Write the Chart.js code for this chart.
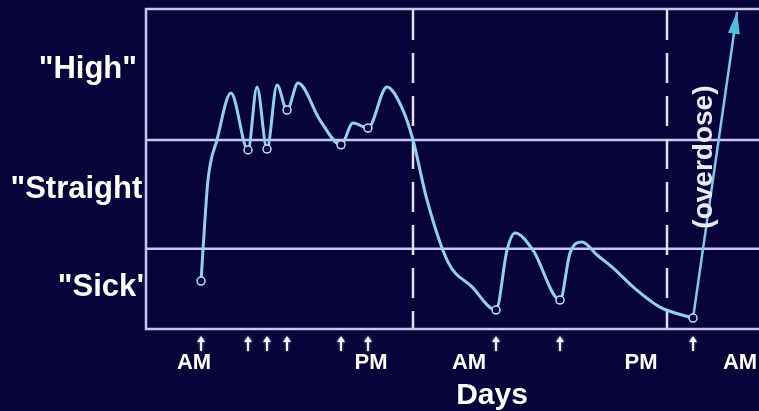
<!DOCTYPE html>
<html>
<head>
<meta charset="utf-8">
<style>
  html, body { margin: 0; padding: 0; background: #05033a; }
  #wrap { width: 759px; height: 411px; }
</style>
</head>
<body>
<div id="wrap"><canvas id="chart" width="759" height="411"></canvas></div>
<script src="https://cdn.jsdelivr.net/npm/chart.js@4.4.1/dist/chart.umd.min.js"></script>
<script>
// hours since the start, mood level (0 = very sick, 100 = top of the frame)
const curveHours = [4.93, 5.10, 5.54, 6.33, 7.56, 9.06, 9.85, 10.73, 11.61, 12.49, 13.46, 15.39, 17.24, 18.29, 19.61, 21.28, 22.69, 23.57, 24.80, 26.65, 28.76, 30.87, 31.84, 32.54, 34.12, 36.50, 37.38, 38.43, 39.75, 41.16, 42.92, 45.29, 48.20];
const curveLevels = [15.2, 24.8, 46.6, 59.0, 73.6, 55.9, 75.5, 56.2, 76.1, 68.3, 76.7, 65.2, 57.5, 64.3, 62.7, 75.5, 68.3, 59.0, 40.4, 21.1, 13.4, 6.2, 24.8, 30.1, 24.8, 9.3, 23.9, 27.3, 23.3, 19.3, 13.4, 7.1, 3.7];
const doseHours = [4.93, 9.06, 10.73, 12.49, 17.24, 19.61, 30.87, 36.50, 48.20];
const overdoseHours = [48.20, 52.07];
const overdoseLevels = [3.7, 98.8];
const bandLimits = [59.0, 25.2];
const moodLabels = ['"High"', '"Straight"', '"Sick"'];
const moodLabelLevels = [78.3, 41.0, 10.6];
const dayBreaks = [23.57, 45.91];
const tickHours = [4.31, 19.88, 28.50, 43.62, 52.33];
const tickLabels = ["AM", "PM", "AM", "PM", "AM"];

const BG = "#05033a";
const FRAME = "#cbc4ec";
const FONT = "'Liberation Sans', Arial, sans-serif";

const decorations = {
  id: "decorations",
  beforeDraw(chart) {
    const c = chart.ctx;
    c.save();
    c.fillStyle = BG;
    c.fillRect(0, 0, chart.width, chart.height);
    c.restore();
  },
  beforeDatasetsDraw(chart) {
    const c = chart.ctx;
    const a = chart.chartArea;
    const xs = chart.scales.x;
    const ys = chart.scales.y;
    c.save();
    c.strokeStyle = FRAME;
    c.lineWidth = 2.5;
    // band limits
    bandLimits.forEach((v) => {
      const y = ys.getPixelForValue(v);
      c.beginPath();
      c.moveTo(a.left, y);
      c.lineTo(a.right, y);
      c.stroke();
    });
    // frame (open on the right)
    c.beginPath();
    c.moveTo(a.right, a.top + 1);
    c.lineTo(a.left + 1, a.top + 1);
    c.lineTo(a.left + 1, a.bottom - 1);
    c.lineTo(a.right, a.bottom - 1);
    c.stroke();
    // day breaks
    c.strokeStyle = "#e4e0f6";
    c.setLineDash([30, 13]);
    dayBreaks.forEach((h) => {
      const x = xs.getPixelForValue(h);
      c.beginPath();
      c.moveTo(x, a.top + 2);
      c.lineTo(x, a.bottom - 2);
      c.stroke();
    });
    c.restore();
  },
  afterDatasetsDraw(chart) {
    const c = chart.ctx;
    const pts = chart.getDatasetMeta(1).data;
    const p0 = pts[0], p1 = pts[pts.length - 1];
    const ang = Math.atan2(p1.y - p0.y, p1.x - p0.x);
    c.save();
    c.translate(p1.x, p1.y);
    c.rotate(ang);
    c.fillStyle = "#4fbedd";
    c.beginPath();
    c.moveTo(0, 0);
    c.lineTo(-22, -6);
    c.lineTo(-22, 6);
    c.closePath();
    c.fill();
    c.restore();
  },
  afterDraw(chart) {
    const c = chart.ctx;
    const a = chart.chartArea;
    const xs = chart.scales.x;
    const ys = chart.scales.y;
    c.save();
    // mood labels, tucked behind the frame
    c.save();
    c.beginPath();
    c.rect(0, 0, a.left - 1, chart.height);
    c.clip();
    c.fillStyle = "#ffffff";
    c.font = "bold 31px " + FONT;
    c.textAlign = "right";
    c.textBaseline = "alphabetic";
    const rightEdges = [a.left - 8, a.left + 12, a.left + 6];
    moodLabels.forEach((t, i) => {
      c.fillText(t, rightEdges[i], ys.getPixelForValue(moodLabelLevels[i]));
    });
    c.restore();
    // dose arrows under the axis
    c.fillStyle = "#f4f2ff";
    c.strokeStyle = "#f4f2ff";
    c.shadowColor = "rgba(255,255,255,0.6)";
    c.shadowBlur = 3;
    c.lineWidth = 2;
    doseHours.forEach((h) => {
      const x = xs.getPixelForValue(h);
      const top = a.bottom + 6;
      c.beginPath();
      c.moveTo(x, top + 4);
      c.lineTo(x, top + 15);
      c.stroke();
      c.beginPath();
      c.moveTo(x, top);
      c.lineTo(x - 4, top + 6);
      c.lineTo(x + 4, top + 6);
      c.closePath();
      c.fill();
    });
    c.shadowBlur = 0;
    // axis title
    c.fillStyle = "#ffffff";
    c.font = "bold 30px " + FONT;
    c.textAlign = "center";
    c.textBaseline = "alphabetic";
    c.fillText("Days", a.left + 347, chart.height - 7);
    // overdose note
    c.translate(xs.getPixelForValue(49.16), ys.getPixelForValue(53.7));
    c.rotate(-Math.PI / 2);
    c.fillStyle = "#ebe9f6";
    c.font = "bold 28px " + FONT;
    c.textAlign = "center";
    c.textBaseline = "middle";
    c.fillText("(overdose)", 0, 0);
    c.restore();
  },
};

const ctx = document.getElementById("chart").getContext("2d");
const moodChart = new Chart(ctx, {
  type: "line",
  data: {
    datasets: [
      {
        data: curveHours.map((h, i) => ({ x: h, y: curveLevels[i] })),
        borderColor: "#8ed2ee",
        borderWidth: 3,
        cubicInterpolationMode: "monotone",
        fill: false,
        pointRadius: (c) => (doseHours.includes(curveHours[c.dataIndex]) ? 4 : 0),
        pointBorderWidth: 1.5,
        pointBorderColor: "#b8e2f4",
        pointBackgroundColor: BG,
      },
      {
        data: overdoseHours.map((h, i) => ({ x: h, y: overdoseLevels[i] })),
        borderColor: "#7ccbe8",
        borderWidth: 2.5,
        tension: 0,
        pointRadius: 0,
        fill: false,
      },
    ],
  },
  options: {
    responsive: false,
    animation: false,
    layout: { autoPadding: false, padding: { left: 145, right: 0, top: 8, bottom: 34.6 } },
    plugins: { legend: { display: false }, tooltip: { enabled: false } },
    scales: {
      x: {
        type: "linear",
        min: 0,
        max: 54,
        afterBuildTicks: (axis) => {
          axis.ticks = tickHours.map((v) => ({ value: v }));
        },
        grid: { display: false, drawTicks: true, tickLength: 20 },
        border: { display: false },
        ticks: {
          padding: 0,
          autoSkip: false,
          maxRotation: 0,
          color: "#ffffff",
          font: { family: FONT, size: 22, weight: "bold" },
          callback: (v, i) => tickLabels[i],
        },
      },
      y: { display: false, min: 0, max: 100 },
    },
  },
  plugins: [decorations],
});
</script>
</body>
</html>
